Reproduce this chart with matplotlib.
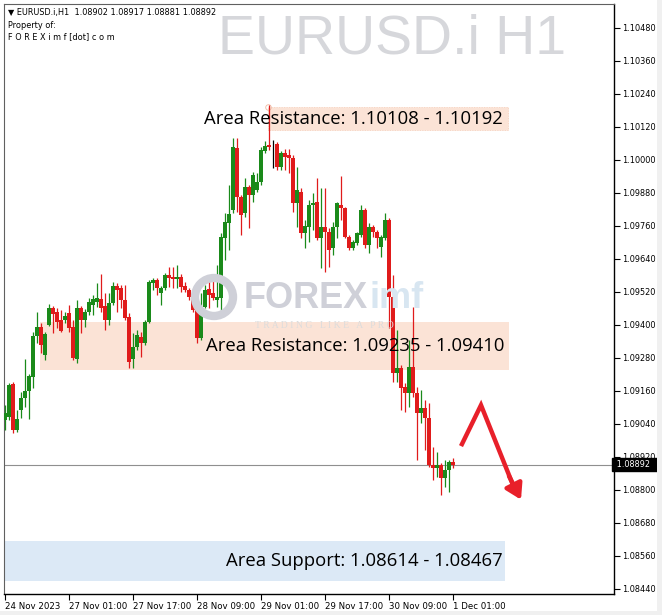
import matplotlib
matplotlib.use("Agg")
import matplotlib.pyplot as plt
from matplotlib.patches import Rectangle, Circle
import numpy as np

# ---------------- data ----------------
opens = [1.09054,1.09065,1.09185,1.09017,1.09090,1.09134,1.09159,1.09210,1.09359,1.09392,
         1.09290,1.09399,1.09461,1.09447,1.09418,1.09418,1.09443,1.09392,1.09276,1.09461,
         1.09418,1.09447,1.09472,1.09483,1.09494,1.09469,1.09418,1.09479,1.09541,1.09534,
         1.09490,1.09428,1.09276,1.09319,1.09356,1.09334,1.09410,1.09552,1.09563,1.09516,
         1.09534,1.09581,1.09574,1.09567,1.09574,1.09541,1.09527,1.09509,1.09465,1.09352,
         1.09465,1.09530,1.09516,1.09490,1.09498,1.09716,1.09771,1.09818,1.10043,1.09865,
         1.09807,1.09902,1.09872,1.09891,1.09920,1.10033,1.10054,1.10058,1.10058,1.09974,
         1.10025,1.10018,1.10007,1.09843,1.09883,1.09734,1.09756,1.09836,1.09847,1.09716,
         1.09756,1.09738,1.09680,1.09756,1.09836,1.09825,1.09720,1.09680,1.09698,1.09727,
         1.09818,1.09690,1.09756,1.09738,1.09683,1.09716,1.09781,1.09501,1.09225,1.09243,
         1.09174,1.09152,1.09247,1.09152,1.09079,1.09097,1.09061,1.08890,1.08879,1.08890,
         1.08843,1.08872,1.08902]
highs = [1.09108,1.09188,1.09192,1.09090,1.09156,1.09276,1.09221,1.09374,1.09447,1.09407,
         1.09374,1.09476,1.09469,1.09461,1.09454,1.09447,1.09472,1.09418,1.09490,1.09469,
         1.09458,1.09498,1.09509,1.09552,1.09585,1.09516,1.09516,1.09556,1.09552,1.09545,
         1.09545,1.09443,1.09370,1.09381,1.09374,1.09418,1.09563,1.09570,1.09570,1.09541,
         1.09589,1.09610,1.09610,1.09618,1.09585,1.09556,1.09534,1.09516,1.09472,1.09516,
         1.09545,1.09581,1.09563,1.09618,1.09734,1.09807,1.09909,1.10080,1.10080,1.09872,
         1.09934,1.09909,1.09956,1.09952,1.10047,1.10069,1.10200,1.10073,1.10065,1.10033,
         1.10040,1.10040,1.10018,1.09974,1.09898,1.09781,1.09854,1.09880,1.09934,1.09898,
         1.09898,1.09752,1.09774,1.09847,1.09942,1.09829,1.09727,1.09709,1.09738,1.09836,
         1.09825,1.09771,1.09763,1.09745,1.09727,1.09807,1.09789,1.09581,1.09381,1.09254,
         1.09188,1.09345,1.09465,1.09174,1.09163,1.09127,1.09116,1.08956,1.08937,1.08897,
         1.08908,1.08908,1.08917]
lows = [1.09017,1.09054,1.09006,1.09010,1.09061,1.09101,1.09057,1.09170,1.09334,1.09298,
        1.09272,1.09396,1.09370,1.09388,1.09374,1.09407,1.09374,1.09272,1.09261,1.09370,
        1.09392,1.09436,1.09436,1.09465,1.09447,1.09381,1.09399,1.09472,1.09447,1.09461,
        1.09418,1.09243,1.09243,1.09308,1.09283,1.09327,1.09407,1.09527,1.09509,1.09472,
        1.09527,1.09538,1.09534,1.09534,1.09519,1.09519,1.09490,1.09447,1.09334,1.09345,
        1.09461,1.09461,1.09490,1.09465,1.09443,1.09636,1.09672,1.09807,1.09811,1.09727,
        1.09792,1.09752,1.09847,1.09883,1.09909,1.10025,1.10036,1.09971,1.09963,1.09963,
        1.09963,1.09952,1.09811,1.09756,1.09716,1.09680,1.09701,1.09745,1.09709,1.09607,
        1.09592,1.09610,1.09654,1.09716,1.09781,1.09716,1.09672,1.09672,1.09690,1.09720,
        1.09680,1.09661,1.09720,1.09680,1.09647,1.09709,1.09388,1.09192,1.09192,1.09090,
        1.09083,1.09101,1.09137,1.08908,1.09043,1.08945,1.08883,1.08836,1.08846,1.08781,
        1.08810,1.08792,1.08881]
closes = [1.09079,1.09181,1.09017,1.09057,1.09134,1.09159,1.09214,1.09359,1.09392,1.09327,
          1.09367,1.09461,1.09439,1.09410,1.09378,1.09432,1.09388,1.09279,1.09461,1.09418,
          1.09447,1.09483,1.09494,1.09498,1.09461,1.09418,1.09479,1.09541,1.09527,1.09490,
          1.09425,1.09265,1.09319,1.09363,1.09334,1.09410,1.09556,1.09563,1.09534,1.09534,
          1.09581,1.09570,1.09567,1.09574,1.09538,1.09527,1.09501,1.09454,1.09352,1.09465,
          1.09527,1.09509,1.09498,1.09501,1.09720,1.09774,1.09803,1.10047,1.09865,1.09800,
          1.09902,1.09872,1.09945,1.09920,1.10036,1.10051,1.10047,1.10058,1.09974,1.10025,
          1.10011,1.10007,1.09843,1.09891,1.09734,1.09760,1.09836,1.09843,1.09716,1.09756,
          1.09738,1.09672,1.09756,1.09843,1.09825,1.09720,1.09680,1.09701,1.09734,1.09818,
          1.09690,1.09756,1.09738,1.09716,1.09720,1.09781,1.09501,1.09225,1.09243,1.09170,
          1.09152,1.09247,1.09152,1.09079,1.09097,1.09061,1.08890,1.08879,1.08890,1.08843,
          1.08872,1.08901,1.08892]

xtick_bars = [0, 16, 32, 48, 64, 80, 96, 112]
xtick_labels = ["24 Nov 2023", "27 Nov 01:00", "27 Nov 17:00", "28 Nov 09:00",
                "29 Nov 01:00", "29 Nov 17:00", "30 Nov 09:00", "1 Dec 01:00"]
yticks = [1.10480, 1.10360, 1.10240, 1.10120, 1.10000, 1.09880, 1.09760, 1.09640,
          1.09520, 1.09400, 1.09280, 1.09160, 1.09040, 1.08920, 1.08800, 1.08680,
          1.08560, 1.08440]
current_price = 1.08892

zone_top = (1.10108, 1.10192)
zone_mid = (1.09235, 1.09410)
zone_sup = (1.08467, 1.08614)
zone_labels = ["Area Resistance: 1.10108 - 1.10192",
               "Area Resistance: 1.09235 - 1.09410",
               "Area Support: 1.08614 - 1.08467"]

# ---------------- figure ----------------
W, H = 662, 615
fig = plt.figure(figsize=(W / 100, H / 100), dpi=100)
fig.patch.set_facecolor("white")

L, R, T, B = 4, 614, 4, 594
ax = fig.add_axes([L / W, 1 - B / H, (R - L) / W, (B - T) / H])
ax.set_facecolor("white")
ax.set_xlim(-0.25, 152.25)
ax.set_ylim(1.08421, 1.10567)

GREEN = "#1a8a1a"
RED = "#e01b1b"
LABEL_FS = 5.9

# zones
ax.add_patch(Rectangle((65.75, zone_top[0]), 60.0, zone_top[1] - zone_top[0],
                       facecolor="#fbe3d6", edgecolor="#f6cdb8", lw=0.6,
                       linestyle=(0, (1, 1)), zorder=1))
ax.plot([65.75], [zone_top[1]], marker="o", ms=4, mfc="none", mec="#f0b8a0",
        mew=0.6, zorder=1)
ax.add_patch(Rectangle((8.75, zone_mid[0]), 117.25, zone_mid[1] - zone_mid[0],
                       facecolor="#fbe3d6", edgecolor="none", zorder=1))
ax.add_patch(Rectangle((0.0, zone_sup[0]), 125.0, zone_sup[1] - zone_sup[0],
                       facecolor="#dce9f6", edgecolor="none", zorder=1))

# watermark texts
fig.text(218 / W, 1 - 40 / H, "EURUSD.i H1", fontsize=40, color="#d6d7db",
         family="Liberation Sans", ha="left", va="center", zorder=0.5)

# FOREXimf logo watermark (display coords)
logo_c = Circle((214, H - 297), 19, transform=None, facecolor="none",
                edgecolor="#cfd0d8", lw=6, zorder=0.6)
fig.patches.append(logo_c)
fig.text(244 / W, 1 - 298 / H, "FOREX", fontsize=26, fontweight="bold",
         color="#cfd0d8", family="Liberation Sans", ha="left", va="center", zorder=0.6)
fig.text(369 / W, 1 - 298 / H, "imf", fontsize=26, fontweight="bold",
         color="#d8e6f1", family="Liberation Sans", ha="left", va="center", zorder=0.6)
fig.text(255 / W, 1 - 325 / H, "T R A D I N G   L I K E   A   P R O", fontsize=7,
         color="#dcdcdc", family="Liberation Serif", ha="left", va="center", zorder=0.6)

# price line
ax.axhline(current_price, color="#8f8f8f", lw=0.8, zorder=2)

# candles
x = np.arange(len(opens))
for i in x:
    o, h, l, c = opens[i], highs[i], lows[i], closes[i]
    col = GREEN if c > o else (RED if c < o else "black")
    ax.vlines(i, l, h, color=col, lw=0.9, zorder=3)
    lo, hi = min(o, c), max(o, c)
    if hi - lo < 0.00003:
        mid = (hi + lo) / 2
        lo, hi = mid - 0.000015, mid + 0.000015
    ax.bar(i, hi - lo, bottom=lo, width=0.8, color=col, lw=0, zorder=4)

# zone labels
ax.text(124.5, sum(zone_top) / 2, zone_labels[0], ha="right", va="center",
        fontsize=13.3, family="Open Sans", color="black", zorder=6)
ax.text(125.0, sum(zone_mid) / 2, zone_labels[1], ha="right", va="center",
        fontsize=13.3, family="Open Sans", color="black", zorder=6)
ax.text(124.5, sum(zone_sup) / 2, zone_labels[2], ha="right", va="center",
        fontsize=13.3, family="Open Sans", color="black", zorder=6)

# red arrow (annotation)
arrow_pts = [(114.0, 1.08959), (119.0, 1.09108), (127.2, 1.08810)]
ax.plot([p[0] for p in arrow_pts], [p[1] for p in arrow_pts], color="#e8202a",
        lw=3.2, solid_capstyle="butt", solid_joinstyle="miter", zorder=7)
ax.annotate("", xy=(129.0, 1.08764), xytext=(126.0, 1.08850),
            arrowprops=dict(arrowstyle="-|>,head_length=0.9,head_width=0.55",
                            color="#e8202a", lw=3.2, shrinkA=0, shrinkB=0), zorder=7)

# axes styling
for s in ["left", "top"]:
    ax.spines[s].set_color("#606060")
    ax.spines[s].set_linewidth(0.8)
for s in ["right", "bottom"]:
    ax.spines[s].set_color("black")
    ax.spines[s].set_linewidth(1.0)

ax.yaxis.tick_right()
ax.set_yticks(yticks)
ax.set_yticklabels([f"{v:.5f}" for v in yticks])
ax.tick_params(axis="y", direction="out", length=4, width=0.8, pad=2,
               labelsize=LABEL_FS, colors="black")
ax.set_xticks(xtick_bars)
ax.set_xticklabels(xtick_labels, ha="left")
ax.tick_params(axis="x", direction="out", length=4, width=0.8, pad=2,
               labelsize=6.2, colors="black")
for lab in ax.get_xticklabels():
    lab.set_family("DejaVu Sans")
for lab in ax.get_yticklabels():
    lab.set_family("DejaVu Sans")

# current price label box
ax.text(1.0, current_price, f" {current_price:.5f}  ", transform=ax.get_yaxis_transform(),
        ha="left", va="center", fontsize=LABEL_FS, color="white", family="DejaVu Sans",
        bbox=dict(boxstyle="square,pad=0.25", facecolor="black", edgecolor="black"),
        zorder=10, clip_on=False)

# header texts
fig.text(8 / W, 1 - 12 / H, "\u25BC EURUSD.i,H1  1.08902 1.08917 1.08881 1.08892",
         fontsize=5.9, family="DejaVu Sans", ha="left", va="center")
fig.text(8 / W, 1 - 25 / H, "Property of:", fontsize=5.9, family="DejaVu Sans",
         ha="left", va="center")
fig.text(8 / W, 1 - 37 / H, "F O R E X i m f [dot] c o m", fontsize=5.9,
         family="DejaVu Sans", ha="left", va="center")

# outer light gray frame strips
fig.patches.append(Rectangle((657, 0), 5, H, transform=None, facecolor="#f0f0f0",
                             edgecolor="none", zorder=0))
fig.patches.append(Rectangle((0, 0), W, 4, transform=None, facecolor="#f0f0f0",
                             edgecolor="none", zorder=0))

fig.savefig("out.png", dpi=100)
